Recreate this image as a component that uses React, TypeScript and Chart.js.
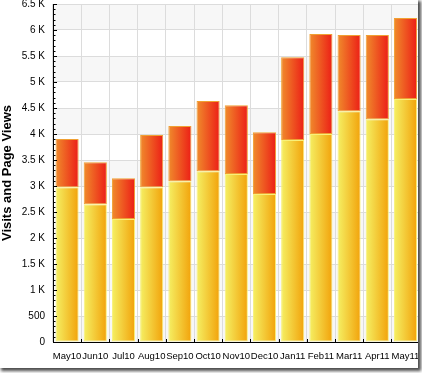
import React, { useEffect, useRef } from "react";
import { Chart, registerables } from "chart.js";

Chart.register(...registerables);

const months = ["May10", "Jun10", "Jul10", "Aug10", "Sep10", "Oct10", "Nov10", "Dec10", "Jan11", "Feb11", "Mar11", "Apr11", "May11"];
const visits = [2975, 2648, 2365, 2975, 3090, 3282, 3231, 2846, 3885, 4000, 4436, 4282, 4673];
const pageViewsExtra = [929, 808, 783, 1006, 1064, 1352, 1320, 1186, 1590, 1923, 1468, 1622, 1558];
const yTickValues = [0, 500, 1000, 1500, 2000, 2500, 3000, 3500, 4000, 4500, 5000, 5500, 6000, 6500];
const yTickLabels = ["0", "500", "1 K", "1.5 K", "2 K", "2.5 K", "3 K", "3.5 K", "4 K", "4.5 K", "5 K", "5.5 K", "6 K", "6.5 K"];
const yMinorStep = 100;
const yMajorStep = 500;

const BAR_PCT = 0.82;
const FONT = "'Liberation Sans', Arial, sans-serif";

function gradientFill(c0: string, c1: string) {
  return (context: any) => {
    const chart = context.chart;
    const xs = chart.scales && chart.scales.x;
    if (!chart.chartArea || !xs || context.dataIndex === undefined) return c1;
    const cx = xs.getPixelForValue(context.dataIndex);
    const w = (xs.width / months.length) * BAR_PCT;
    const g = chart.ctx.createLinearGradient(cx - w / 2, 0, cx + w / 2, 0);
    g.addColorStop(0, c0);
    g.addColorStop(1, c1);
    return g;
  };
}

const bandsPlugin = {
  id: "bands",
  beforeDraw(chart: any) {
    const { ctx, chartArea, scales } = chart;
    const y = scales.y;
    ctx.save();
    ctx.fillStyle = "#f7f7f7";
    for (let i = 0; i < yTickValues.length - 1; i += 2) {
      const top = y.getPixelForValue(yTickValues[i + 1]);
      const bot = y.getPixelForValue(yTickValues[i]);
      ctx.fillRect(chartArea.left, top, chartArea.right - chartArea.left, bot - top);
    }
    ctx.restore();
  },
};

const inwardTicksPlugin = {
  id: "inwardTicks",
  afterDraw(chart: any) {
    const { ctx, chartArea, scales } = chart;
    const y = scales.y;
    const x = scales.x;
    ctx.save();
    ctx.strokeStyle = "#000";
    ctx.lineWidth = 1;
    ctx.beginPath();
    const maxV = yTickValues[yTickValues.length - 1];
    for (let v = 0; v <= maxV; v += yMinorStep) {
      const py = Math.round(y.getPixelForValue(v)) + 0.5;
      const len = v % yMajorStep === 0 ? 4 : 2.5;
      ctx.moveTo(chartArea.left, py);
      ctx.lineTo(chartArea.left + len, py);
    }
    for (let i = 0; i <= months.length; i++) {
      const px = Math.round(x.getPixelForValue(i - 0.5)) + 0.5;
      ctx.moveTo(px, chartArea.bottom);
      ctx.lineTo(px, chartArea.bottom - 3);
    }
    ctx.stroke();
    ctx.restore();
  },
};

export default function App() {
  const ref = useRef<HTMLCanvasElement | null>(null);

  useEffect(() => {
    if (!ref.current) return;
    const chart = new Chart(ref.current, {
      type: "bar",
      data: {
        labels: months,
        datasets: [
          {
            label: "Visits",
            data: visits,
            backgroundColor: gradientFill("#f5f064", "#f2a20a"),
            borderColor: "#f8f07a",
            borderWidth: 1,
            borderSkipped: false,
            categoryPercentage: 1,
            barPercentage: BAR_PCT,
          },
          {
            label: "Page Views",
            data: pageViewsExtra,
            backgroundColor: gradientFill("#f08c2c", "#ec1e16"),
            borderColor: "#f0a032",
            borderWidth: 1,
            borderSkipped: false,
            categoryPercentage: 1,
            barPercentage: BAR_PCT,
          },
        ],
      },
      options: {
        responsive: false,
        animation: false,
        layout: { padding: { left: 0, top: 4, right: 2.4, bottom: 0 } },
        plugins: {
          legend: { display: false },
          tooltip: { enabled: false },
        },
        scales: {
          x: {
            stacked: true,
            grid: { offset: true, color: "#dcdcdc", lineWidth: 1, drawTicks: false },
            border: { color: "#000", width: 1 },
            ticks: {
              autoSkip: false,
              maxRotation: 0,
              minRotation: 0,
              padding: 9,
              color: "#000",
              font: { family: FONT, size: 9.5 },
            },
            afterFit(s: any) {
              s.height = 26;
              s.paddingLeft = 0;
              s.paddingRight = 0;
            },
          },
          y: {
            stacked: true,
            min: 0,
            max: yTickValues[yTickValues.length - 1],
            grid: { color: "#dcdcdc", lineWidth: 1, drawTicks: false },
            border: { color: "#000", width: 1 },
            ticks: {
              stepSize: yMajorStep,
              padding: 8,
              color: "#000",
              font: { family: FONT, size: 10 },
              callback: (v: any) => {
                const i = yTickValues.indexOf(Number(v));
                return i >= 0 ? yTickLabels[i] : "";
              },
            },
            title: {
              display: true,
              text: "Visits and Page Views",
              color: "#000",
              padding: 0,
              font: { family: FONT, size: 13, weight: "bold" },
            },
            afterFit(s: any) {
              s.width = 53;
              s.paddingTop = 0;
              s.paddingBottom = 0;
            },
          },
        },
      },
      plugins: [bandsPlugin, inwardTicksPlugin],
    } as any);
    return () => chart.destroy();
  }, []);

  return (
    <div
      style={{
        position: "absolute",
        left: 0,
        top: 0,
        width: 418,
        height: 368,
        overflow: "hidden",
        background: "#fff",
        boxShadow: "2px 2px 3px 1px rgba(0,0,0,0.7)",
      }}
    >
      <canvas ref={ref} width={422} height={368} style={{ display: "block", width: 422, height: 368 }} />
    </div>
  );
}
